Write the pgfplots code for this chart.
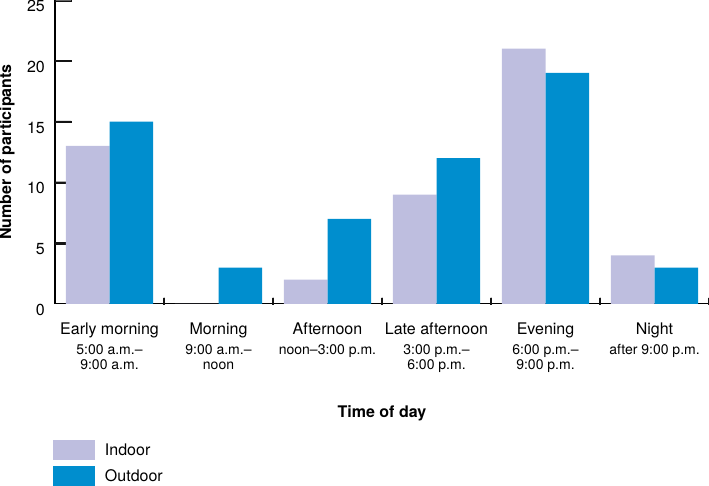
\documentclass[border=0pt]{standalone}
\usepackage{fontspec}
\setmainfont{TeX Gyre Heros}
\usepackage{pgfplots}
\pgfplotsset{compat=1.18}
\definecolor{indoor}{RGB}{190,190,223}
\definecolor{outdoor}{RGB}{0,142,206}
\definecolor{tickc}{RGB}{20,20,20}
\newcommand\cat[2]{{\fontsize{16}{18}\selectfont #1}\\[5pt]#2}
\begin{document}
\begin{tikzpicture}
\begin{axis}[
  scale only axis, width=654pt, height=304pt,
  xmin=0, xmax=6, ymin=0, ymax=25,
  clip=false,
  axis x line*=bottom, axis y line*=left,
  x axis line style={line width=1pt, black},
  y axis line style={line width=1.3pt, black},
  ytick={0,5,...,25},
  xtick={0.5,1.5,...,5.5},
  every tick/.style={draw=none},
  xticklabels={
    {\cat{Early morning}{5:00 a.m.–\\9:00 a.m.}},
    {\cat{Morning}{9:00 a.m.–\\noon}},
    {\cat{Afternoon}{noon–3:00 p.m.}},
    {\cat{Late afternoon}{3:00 p.m.–\\6:00 p.m.}},
    {\cat{Evening}{6:00 p.m.–\\9:00 p.m.}},
    {\cat{Night}{after 9:00 p.m.}}},
  xticklabel style={align=center, anchor=north, inner sep=0pt, yshift=-19pt,
    font=\fontsize{14}{15}\selectfont},
  yticklabel style={anchor=east, inner sep=0pt, xshift=-10pt, yshift=-6pt,
    font=\fontsize{16}{18}\selectfont},
  /pgf/number format/assume math mode=true,
  ylabel={Number of participants},
  ylabel style={at={(axis description cs:-0.0734,0.5)}, anchor=center,
    font=\bfseries\fontsize{16}{18}\selectfont},
  xlabel={Time of day},
  xlabel style={at={(axis description cs:0.5,-0.373)}, anchor=base,
    font=\bfseries\fontsize{16}{18}\selectfont},
  bar width=0.4,
  legend style={at={(axis description cs:-0.00306,-0.4474)}, anchor=north west,
    draw=none, fill=none, inner sep=0pt, outer sep=0pt,
    row sep=6pt, column sep=10pt, nodes={inner sep=0pt},
    font=\fontsize{16}{18}\selectfont},
  legend cell align=left,
]
% tick marks as thin bars, drawn first so that the bars lie over them
\addplot[xbar, fill=tickc, draw=tickc, line width=0.3pt, bar width=1.4pt, bar shift=0pt]
  coordinates {(0.1468,5) (0.1468,10) (0.1468,15) (0.1468,20) (0.1468,25)};
\addplot[ybar, fill=tickc, draw=tickc, line width=0.3pt, bar width=1pt, bar shift=0pt]
  coordinates {(1,0.52) (2,0.52) (3,0.52) (4,0.52) (5,0.52) (6,0.52)};
\addplot[ybar, fill=indoor, draw=none, bar shift=-0.2,
  legend image code/.code={\fill[indoor] (0pt,-10pt) rectangle (42pt,10pt);}]
  coordinates {(0.5,13) (1.5,0) (2.5,2) (3.5,9) (4.5,21) (5.5,4)};
\addplot[ybar, fill=outdoor, draw=none, bar shift=0.2,
  legend image code/.code={\fill[outdoor] (0pt,-10pt) rectangle (42pt,10pt);}]
  coordinates {(0.5,15) (1.5,3) (2.5,7) (3.5,12) (4.5,19) (5.5,3)};
\legend{,,Indoor, Outdoor}
\end{axis}
\pgfresetboundingbox
\path[use as bounding box] ([xshift=-55pt,yshift=-182pt]current axis.south west)
  rectangle (current axis.north east);
\end{tikzpicture}
\end{document}
